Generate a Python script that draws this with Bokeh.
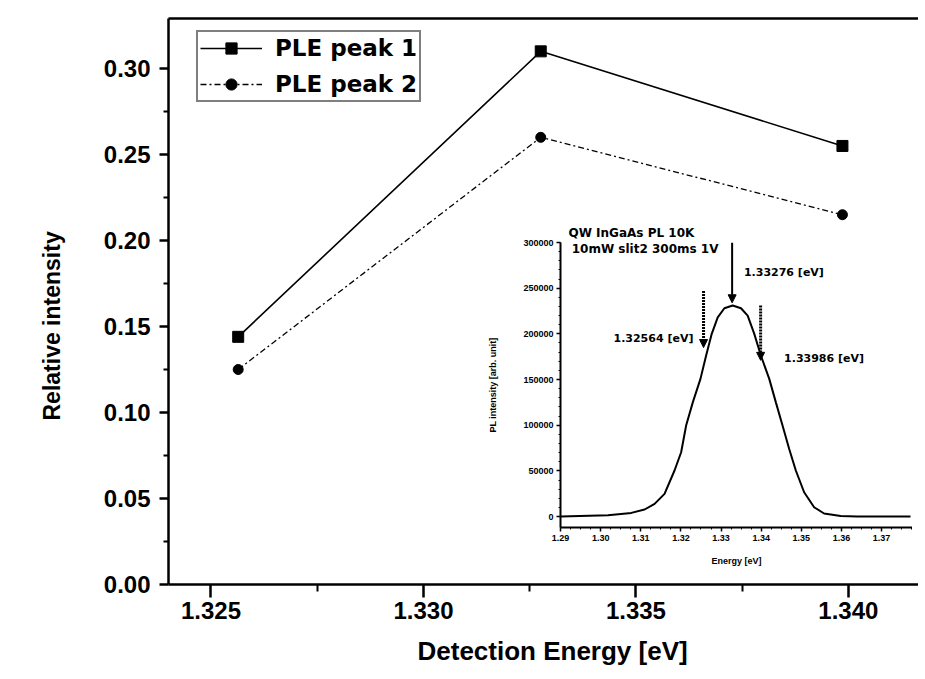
from bokeh.plotting import figure
from bokeh.models import (Range1d, FixedTicker, NumeralTickFormatter, LinearAxis, Legend, LegendItem,
                          Label, Arrow, NormalHead, PrintfTickFormatter, Title)
from bokeh.embed import file_html
from bokeh.resources import INLINE

# ---------------- data: main chart ----------------
det_energy = [1.32564, 1.33276, 1.33986]
ple_peak1 = [0.144, 0.310, 0.255]
ple_peak2 = [0.125, 0.260, 0.215]
x_ticks = [1.325, 1.330, 1.335, 1.340]
x_minor = [1.3275, 1.3325, 1.3375]
y_ticks = [0.00, 0.05, 0.10, 0.15, 0.20, 0.25, 0.30]
y_minor = [0.025, 0.075, 0.125, 0.175, 0.225, 0.275]

# ---------------- data: inset PL spectrum ----------------
pl_energy = [1.29008, 1.30184, 1.30764, 1.31095, 1.31344, 1.31592, 1.31841, 1.32006, 1.32130,
             1.32296, 1.32487, 1.32627, 1.32768, 1.32917, 1.33083, 1.33290, 1.33497, 1.33663,
             1.33828, 1.33994, 1.34201, 1.34366, 1.34532, 1.34698, 1.34863, 1.35070, 1.35319,
             1.35567, 1.35981, 1.36396, 1.37720]
pl_intensity = [0, 1500, 4000, 7700, 13900, 24800, 50400, 70400, 99600,
                125000, 150700, 176000, 200000, 218000, 228000, 231000, 228000, 220000,
                200000, 176000, 150700, 125000, 99600, 74000, 50400, 26600, 10200,
                3300, 700, 0, 0]
inset_x_ticks = [1.29, 1.30, 1.31, 1.32, 1.33, 1.34, 1.35, 1.36, 1.37]
inset_y_ticks = [0, 50000, 100000, 150000, 200000, 250000, 300000]
arrow_x = [1.32564, 1.33276, 1.33986]
arrow_top = [247000, 300000, 231000]
arrow_tip = [185000, 234000, 171000]
peak_labels = ["1.32564 [eV]", "1.33276 [eV]", "1.33986 [eV]"]
peak_label_x = [1.3032, 1.3357, 1.3457]
peak_label_y = [195000, 267000, 173000]

FONT = "Liberation Sans"
WIDE = "DejaVu Sans"

# ---------------- main figure ----------------
p = figure(width=918, height=678, x_range=Range1d(1.324, 1.34165), y_range=Range1d(0, 0.3291),
           output_backend="svg", toolbar_location=None,
           min_border_left=166, min_border_top=18, min_border_bottom=94, min_border_right=0)
p.outline_line_color = None
p.grid.visible = False
p.background_fill_color = "white"

for ax in (p.xaxis[0], p.yaxis[0]):
    ax.axis_line_width = 2.5
    ax.major_tick_line_width = 2.5
    ax.minor_tick_line_width = 2
    ax.major_tick_in = 0
    ax.minor_tick_in = 0
    ax.major_label_text_font = FONT
    ax.major_label_text_font_style = "bold"
    ax.major_label_text_font_size = "24px"
    ax.major_label_text_color = "black"

p.xaxis.ticker = FixedTicker(ticks=x_ticks, minor_ticks=x_minor)
p.xaxis.formatter = NumeralTickFormatter(format="0.000")
p.xaxis.major_tick_out = 13
p.xaxis.minor_tick_out = 7
p.xaxis.major_label_standoff = 4

p.yaxis.ticker = FixedTicker(ticks=y_ticks, minor_ticks=y_minor)
p.yaxis.formatter = NumeralTickFormatter(format="0.00")
p.yaxis.major_tick_out = 9
p.yaxis.minor_tick_out = 5
p.yaxis.major_label_standoff = 9

top = LinearAxis(axis_line_width=2.5, major_tick_line_color=None, minor_tick_line_color=None,
                 major_label_text_font_size="0px", major_label_standoff=0,
                 ticker=FixedTicker(ticks=[]))
p.add_layout(top, "above")

p.add_layout(Title(text="Detection Energy [eV]", align="left", offset=249, standoff=25,
                   text_font=FONT, text_font_style="bold", text_font_size="26px",
                   text_color="black"), "below")
p.add_layout(Title(text="Relative intensity", align="left", offset=164, standoff=72,
                   text_font=FONT, text_font_style="bold", text_font_size="23px",
                   text_color="black"), "left")

l1 = p.line(det_energy, ple_peak1, line_color="black", line_width=1.6)
m1 = p.scatter(det_energy, ple_peak1, marker="square", size=11, fill_color="black", line_color="black")
l2 = p.line(det_energy, ple_peak2, line_color="black", line_width=1.3, line_dash="6 3 2 3")
m2 = p.scatter(det_energy, ple_peak2, marker="circle", size=10, fill_color="black", line_color="black")

legend = Legend(items=[LegendItem(label="PLE peak 1", renderers=[l1, m1]),
                       LegendItem(label="PLE peak 2", renderers=[l2, m2])],
                location=(28, 482))
legend.label_text_font = WIDE
legend.label_text_font_style = "bold"
legend.label_text_font_size = "23px"
legend.label_text_color = "black"
legend.glyph_width = 62
legend.glyph_height = 28
legend.label_height = 28
legend.label_standoff = 13
legend.spacing = 8
legend.padding = 2
legend.margin = 0
legend.border_line_color = "black"
legend.border_line_width = 2
legend.background_fill_alpha = 1
p.add_layout(legend)

# ---------------- inset figure ----------------
inset = figure(width=427, height=355, x_range=Range1d(1.29, 1.3777), y_range=Range1d(-12000, 300000),
               output_backend="svg", toolbar_location=None,
               min_border_left=74, min_border_right=0, min_border_top=25, min_border_bottom=45)
inset.outline_line_color = None
inset.grid.visible = False
inset.background_fill_color = "white"
inset.border_fill_alpha = 0
inset.title.text = "QW InGaAs PL 10K"
inset.title.align = "left"
inset.title.offset = 8
inset.title.standoff = 5
inset.title.text_font = WIDE
inset.title.text_font_style = "bold"
inset.title.text_font_size = "12px"
inset.title.text_color = "black"

for ax in (inset.xaxis[0], inset.yaxis[0]):
    ax.axis_line_width = 2
    ax.major_tick_line_width = 1.5
    ax.minor_tick_line_width = 1
    ax.major_tick_in = 0
    ax.major_tick_out = 4
    ax.minor_tick_in = 0
    ax.minor_tick_out = 2
    ax.major_label_text_font = FONT
    ax.major_label_text_font_style = "bold"
    ax.major_label_text_font_size = "9px"
    ax.major_label_text_color = "black"
    ax.major_label_standoff = 3
    ax.axis_label_text_font = FONT
    ax.axis_label_text_font_style = "bold"
    ax.axis_label_text_font_size = "9px"
    ax.axis_label_text_color = "black"

inset.xaxis.ticker = FixedTicker(ticks=inset_x_ticks,
                                 minor_ticks=[1.29 + 0.0025 * i for i in range(36)])
inset.xaxis.formatter = NumeralTickFormatter(format="0.00")
inset.xaxis.axis_label = "Energy [eV]"
inset.xaxis.axis_label_standoff = 12
inset.yaxis.ticker = FixedTicker(ticks=inset_y_ticks,
                                 minor_ticks=[10000 * i for i in range(31)])
inset.yaxis.formatter = PrintfTickFormatter(format="%d")
inset.yaxis.axis_label = "PL intensity [arb. unit]"
inset.yaxis.axis_label_standoff = 22

inset.line(pl_energy, pl_intensity, line_color="black", line_width=2)

for i in range(3):
    inset.add_layout(Arrow(x_start=arrow_x[i], y_start=arrow_top[i], x_end=arrow_x[i], y_end=arrow_tip[i],
                           line_width=2 if i == 1 else 3, line_dash="solid" if i == 1 else "2 1",
                           end=NormalHead(size=8, fill_color="black", line_color="black")))
    inset.add_layout(Label(x=peak_label_x[i], y=peak_label_y[i], text=peak_labels[i],
                           text_font=WIDE, text_font_style="bold", text_font_size="11px",
                           text_color="black", text_baseline="middle"))

inset.add_layout(Label(x=1.2928, y=293000, text="10mW slit2 300ms 1V", text_font=WIDE,
                       text_font_style="bold", text_font_size="12px", text_color="black",
                       text_baseline="middle"))

inset.styles = {"position": "absolute", "left": "485px", "top": "217px"}

open("out.html", "w").write(file_html([p, inset], INLINE))
